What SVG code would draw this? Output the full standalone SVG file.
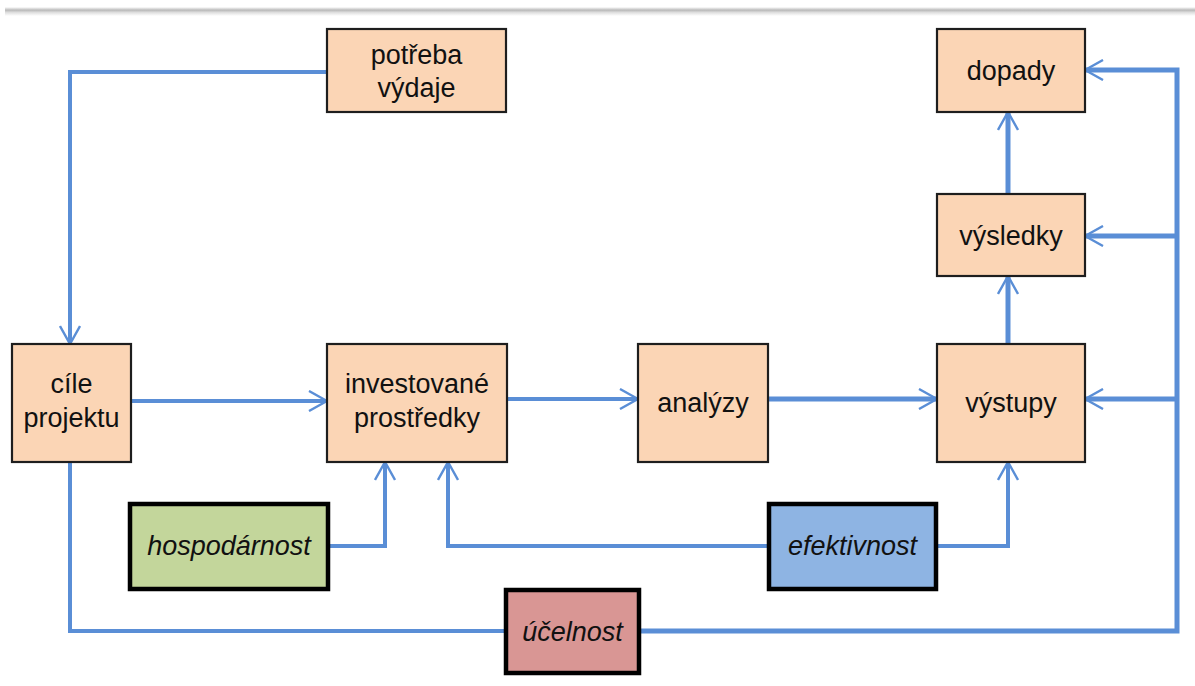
<svg xmlns="http://www.w3.org/2000/svg" width="1195" height="686" viewBox="0 0 1195 686">
  <style>
    .box { fill: #FBD5B5; stroke: #1e1e1e; stroke-width: 2.2; }
    .key { stroke: #000; stroke-width: 4.5; }
    .lbl { font-family: "Liberation Sans", Arial, sans-serif; font-size: 27px; fill: #111; text-anchor: middle; }
    .it { font-style: italic; }
    .wire { fill: none; stroke: #5A8ED6; stroke-width: 4; stroke-linejoin: miter; }
    .wire.arr { marker-end: url(#head); }
    .heavy { stroke-width: 5; }
  </style>
  <defs>
    <linearGradient id="rule" x1="0" y1="0" x2="0" y2="1">
      <stop offset="0" stop-color="#ffffff"/>
      <stop offset="0.35" stop-color="#b9b9b9"/>
      <stop offset="0.6" stop-color="#dedede"/>
      <stop offset="1" stop-color="#ffffff"/>
    </linearGradient>
    <marker id="head" viewBox="0 0 20 22" refX="19" refY="11" markerWidth="20" markerHeight="22" markerUnits="userSpaceOnUse" orient="auto">
      <path d="M1,1 L19,11 L1,21" fill="none" stroke="#5A8ED6" stroke-width="2.4"/>
    </marker>
  </defs>

  <rect x="0" y="0" width="1195" height="686" fill="#ffffff"/>
  <!-- page header rule -->
  <rect x="5" y="7" width="1190" height="9" fill="url(#rule)"/>

  <!-- connectors -->
  <g id="connectors">
    <path class="wire arr" d="M327,72 H70 V344"/>
    <path class="wire arr" d="M131,401 H327"/>
    <path class="wire arr" d="M507,399 H638"/>
    <path class="wire arr heavy" d="M768,399 H937"/>
    <path class="wire arr heavy" d="M1008,344 V276"/>
    <path class="wire arr heavy" d="M1008,194 V112"/>
    <path class="wire" d="M70,462 V631 H504"/>
    <path class="wire arr heavy" d="M641,631 H1177 V70 H1085"/>
    <path class="wire arr heavy" d="M1177,236 H1085"/>
    <path class="wire arr heavy" d="M1177,399 H1085"/>
    <path class="wire arr" d="M330,546 H385 V462"/>
    <path class="wire arr" d="M767,546 H448 V462"/>
    <path class="wire arr" d="M938,546 H1008 V462"/>
  </g>

  <g id="potreba">
    <rect class="box" x="327" y="29" width="179" height="83"/>
    <text class="lbl" x="416.5" y="64">potřeba</text>
    <text class="lbl" x="416.5" y="97">výdaje</text>
  </g>
  <g id="dopady">
    <rect class="box" x="937" y="29" width="148" height="83"/>
    <text class="lbl" x="1011" y="80">dopady</text>
  </g>
  <g id="vysledky">
    <rect class="box" x="937" y="194" width="148" height="82"/>
    <text class="lbl" x="1011" y="245">výsledky</text>
  </g>
  <g id="cile">
    <rect class="box" x="12" y="344" width="119" height="118"/>
    <text class="lbl" x="71.5" y="393">cíle</text>
    <text class="lbl" x="71.5" y="427">projektu</text>
  </g>
  <g id="investovane">
    <rect class="box" x="327" y="344" width="180" height="118"/>
    <text class="lbl" x="417" y="393">investované</text>
    <text class="lbl" x="417" y="427">prostředky</text>
  </g>
  <g id="analyzy">
    <rect class="box" x="638" y="344" width="130" height="118"/>
    <text class="lbl" x="703" y="412">analýzy</text>
  </g>
  <g id="vystupy">
    <rect class="box" x="937" y="344" width="148" height="118"/>
    <text class="lbl" x="1011" y="412">výstupy</text>
  </g>
  <g id="hospodarnost">
    <rect class="key" x="130" y="504" width="198" height="85" fill="#C3D69B"/>
    <text class="lbl it" x="229" y="555">hospodárnost</text>
  </g>
  <g id="efektivnost">
    <rect class="key" x="769" y="504" width="167" height="85" fill="#8EB4E3"/>
    <text class="lbl it" x="852.5" y="555">efektivnost</text>
  </g>
  <g id="ucelnost">
    <rect class="key" x="506" y="590" width="133" height="83" fill="#D99694"/>
    <text class="lbl it" x="572.5" y="641">účelnost</text>
  </g>
</svg>
